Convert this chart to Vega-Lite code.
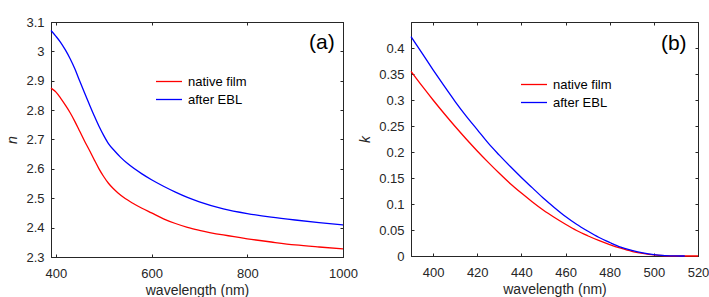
{
  "$schema": "https://vega.github.io/schema/vega-lite/v6.json",
  "padding": {"left": 5, "top": 15, "right": 0, "bottom": 0},
  "bounds": "flush",
  "spacing": 68,
  "datasets": {
    "nData": [
      {"wavelength": 390, "n": 2.875, "series": "native film"},
      {"wavelength": 400, "n": 2.862, "series": "native film"},
      {"wavelength": 410, "n": 2.841, "series": "native film"},
      {"wavelength": 420, "n": 2.817, "series": "native film"},
      {"wavelength": 430, "n": 2.791, "series": "native film"},
      {"wavelength": 440, "n": 2.761, "series": "native film"},
      {"wavelength": 450, "n": 2.728, "series": "native film"},
      {"wavelength": 460, "n": 2.695, "series": "native film"},
      {"wavelength": 470, "n": 2.664, "series": "native film"},
      {"wavelength": 480, "n": 2.632, "series": "native film"},
      {"wavelength": 490, "n": 2.601, "series": "native film"},
      {"wavelength": 500, "n": 2.574, "series": "native film"},
      {"wavelength": 510, "n": 2.551, "series": "native film"},
      {"wavelength": 520, "n": 2.533, "series": "native film"},
      {"wavelength": 530, "n": 2.518, "series": "native film"},
      {"wavelength": 545, "n": 2.499, "series": "native film"},
      {"wavelength": 560, "n": 2.484, "series": "native film"},
      {"wavelength": 580, "n": 2.466, "series": "native film"},
      {"wavelength": 600, "n": 2.450, "series": "native film"},
      {"wavelength": 625, "n": 2.430, "series": "native film"},
      {"wavelength": 650, "n": 2.414, "series": "native film"},
      {"wavelength": 675, "n": 2.401, "series": "native film"},
      {"wavelength": 700, "n": 2.391, "series": "native film"},
      {"wavelength": 750, "n": 2.375, "series": "native film"},
      {"wavelength": 800, "n": 2.362, "series": "native film"},
      {"wavelength": 850, "n": 2.351, "series": "native film"},
      {"wavelength": 900, "n": 2.341, "series": "native film"},
      {"wavelength": 950, "n": 2.334, "series": "native film"},
      {"wavelength": 1000, "n": 2.328, "series": "native film"},
      {"wavelength": 390, "n": 3.071, "series": "after EBL"},
      {"wavelength": 400, "n": 3.052, "series": "after EBL"},
      {"wavelength": 410, "n": 3.031, "series": "after EBL"},
      {"wavelength": 420, "n": 3.005, "series": "after EBL"},
      {"wavelength": 430, "n": 2.975, "series": "after EBL"},
      {"wavelength": 440, "n": 2.940, "series": "after EBL"},
      {"wavelength": 450, "n": 2.899, "series": "after EBL"},
      {"wavelength": 460, "n": 2.859, "series": "after EBL"},
      {"wavelength": 470, "n": 2.820, "series": "after EBL"},
      {"wavelength": 480, "n": 2.782, "series": "after EBL"},
      {"wavelength": 490, "n": 2.746, "series": "after EBL"},
      {"wavelength": 500, "n": 2.714, "series": "after EBL"},
      {"wavelength": 510, "n": 2.686, "series": "after EBL"},
      {"wavelength": 524, "n": 2.659, "series": "after EBL"},
      {"wavelength": 535, "n": 2.640, "series": "after EBL"},
      {"wavelength": 550, "n": 2.618, "series": "after EBL"},
      {"wavelength": 580, "n": 2.583, "series": "after EBL"},
      {"wavelength": 600, "n": 2.563, "series": "after EBL"},
      {"wavelength": 625, "n": 2.541, "series": "after EBL"},
      {"wavelength": 650, "n": 2.521, "series": "after EBL"},
      {"wavelength": 675, "n": 2.503, "series": "after EBL"},
      {"wavelength": 700, "n": 2.488, "series": "after EBL"},
      {"wavelength": 750, "n": 2.464, "series": "after EBL"},
      {"wavelength": 800, "n": 2.448, "series": "after EBL"},
      {"wavelength": 850, "n": 2.436, "series": "after EBL"},
      {"wavelength": 900, "n": 2.426, "series": "after EBL"},
      {"wavelength": 950, "n": 2.417, "series": "after EBL"},
      {"wavelength": 1000, "n": 2.409, "series": "after EBL"}
    ],
    "kData": [
      {"wavelength": 390, "k": 0.355, "series": "native film"},
      {"wavelength": 395, "k": 0.327, "series": "native film"},
      {"wavelength": 400, "k": 0.300, "series": "native film"},
      {"wavelength": 405, "k": 0.274, "series": "native film"},
      {"wavelength": 410, "k": 0.249, "series": "native film"},
      {"wavelength": 415, "k": 0.225, "series": "native film"},
      {"wavelength": 420, "k": 0.202, "series": "native film"},
      {"wavelength": 425, "k": 0.180, "series": "native film"},
      {"wavelength": 430, "k": 0.159, "series": "native film"},
      {"wavelength": 435, "k": 0.139, "series": "native film"},
      {"wavelength": 440, "k": 0.121, "series": "native film"},
      {"wavelength": 445, "k": 0.104, "series": "native film"},
      {"wavelength": 450, "k": 0.088, "series": "native film"},
      {"wavelength": 455, "k": 0.074, "series": "native film"},
      {"wavelength": 460, "k": 0.061, "series": "native film"},
      {"wavelength": 465, "k": 0.049, "series": "native film"},
      {"wavelength": 470, "k": 0.039, "series": "native film"},
      {"wavelength": 475, "k": 0.030, "series": "native film"},
      {"wavelength": 480, "k": 0.022, "series": "native film"},
      {"wavelength": 485, "k": 0.015, "series": "native film"},
      {"wavelength": 490, "k": 0.009, "series": "native film"},
      {"wavelength": 495, "k": 0.005, "series": "native film"},
      {"wavelength": 500, "k": 0.002, "series": "native film"},
      {"wavelength": 505, "k": 0.0005, "series": "native film"},
      {"wavelength": 510, "k": 0, "series": "native film"},
      {"wavelength": 520, "k": 0, "series": "native film"},
      {"wavelength": 390, "k": 0.422, "series": "after EBL"},
      {"wavelength": 395, "k": 0.390, "series": "after EBL"},
      {"wavelength": 400, "k": 0.358, "series": "after EBL"},
      {"wavelength": 405, "k": 0.327, "series": "after EBL"},
      {"wavelength": 410, "k": 0.297, "series": "after EBL"},
      {"wavelength": 415, "k": 0.269, "series": "after EBL"},
      {"wavelength": 420, "k": 0.243, "series": "after EBL"},
      {"wavelength": 425, "k": 0.217, "series": "after EBL"},
      {"wavelength": 430, "k": 0.194, "series": "after EBL"},
      {"wavelength": 435, "k": 0.172, "series": "after EBL"},
      {"wavelength": 440, "k": 0.151, "series": "after EBL"},
      {"wavelength": 445, "k": 0.131, "series": "after EBL"},
      {"wavelength": 450, "k": 0.111, "series": "after EBL"},
      {"wavelength": 455, "k": 0.093, "series": "after EBL"},
      {"wavelength": 460, "k": 0.076, "series": "after EBL"},
      {"wavelength": 465, "k": 0.061, "series": "after EBL"},
      {"wavelength": 470, "k": 0.048, "series": "after EBL"},
      {"wavelength": 475, "k": 0.036, "series": "after EBL"},
      {"wavelength": 480, "k": 0.026, "series": "after EBL"},
      {"wavelength": 485, "k": 0.017, "series": "after EBL"},
      {"wavelength": 490, "k": 0.011, "series": "after EBL"},
      {"wavelength": 495, "k": 0.006, "series": "after EBL"},
      {"wavelength": 500, "k": 0.0025, "series": "after EBL"},
      {"wavelength": 505, "k": 0.0007, "series": "after EBL"},
      {"wavelength": 510, "k": 0.0001, "series": "after EBL"},
      {"wavelength": 514, "k": 0, "series": "after EBL"}
    ]
  },
  "hconcat": [
    {
      "width": 292,
      "height": 235,
      "layer": [
        {
          "data": {"name": "nData"},
          "mark": {"type": "line", "strokeWidth": 1.3, "interpolate": "monotone"},
          "encoding": {
            "x": {"field": "wavelength", "type": "quantitative", "scale": {"domain": [390, 1000], "nice": false, "zero": false}, "axis": {"title": "wavelength (nm)", "values": [400, 600, 800, 1000], "format": "d"}},
            "y": {"field": "n", "type": "quantitative", "scale": {"domain": [2.3, 3.1], "nice": false, "zero": false}, "axis": {"title": "n", "titleFontStyle": "italic", "values": [2.3, 2.4, 2.5, 2.6, 2.7, 2.8, 2.9, 3.0, 3.1], "format": "~g"}},
            "color": {"field": "series", "type": "nominal", "scale": {"domain": ["native film", "after EBL"], "range": ["#ff0000", "#0000ff"]}, "legend": {"title": null, "orient": "none", "legendX": 104, "legendY": 52}}
          }
        },
        {
          "data": {"values": [{}]},
          "mark": {"type": "text", "text": "(a)", "fontSize": 21, "align": "center", "baseline": "middle", "color": "#000000"},
          "encoding": {
            "x": {"datum": 956, "type": "quantitative", "axis": {"orient": "top", "labels": false, "title": null, "values": [400, 600, 800, 1000]}},
            "y": {"datum": 3.028, "type": "quantitative", "axis": {"orient": "right", "labels": false, "title": null, "values": [2.3, 2.4, 2.5, 2.6, 2.7, 2.8, 2.9, 3.0, 3.1]}}
          }
        }
      ],
      "resolve": {"axis": {"x": "independent", "y": "independent"}}
    },
    {
      "width": 287,
      "height": 234,
      "layer": [
        {
          "data": {"name": "kData"},
          "mark": {"type": "line", "strokeWidth": 1.3, "interpolate": "monotone"},
          "encoding": {
            "x": {"field": "wavelength", "type": "quantitative", "scale": {"domain": [390, 520], "nice": false, "zero": false}, "axis": {"title": "wavelength (nm)", "values": [400, 420, 440, 460, 480, 500, 520], "format": "d"}},
            "y": {"field": "k", "type": "quantitative", "scale": {"domain": [0, 0.45], "nice": false}, "axis": {"title": "k", "titleFontStyle": "italic", "values": [0, 0.05, 0.1, 0.15, 0.2, 0.25, 0.3, 0.35, 0.4], "format": "~g"}},
            "color": {"field": "series", "type": "nominal", "scale": {"domain": ["native film", "after EBL"], "range": ["#ff0000", "#0000ff"]}, "legend": {"title": null, "orient": "none", "legendX": 109, "legendY": 55}}
          }
        },
        {
          "data": {"values": [{}]},
          "mark": {"type": "text", "text": "(b)", "fontSize": 21, "align": "center", "baseline": "middle", "color": "#000000"},
          "encoding": {
            "x": {"datum": 509, "type": "quantitative", "axis": {"orient": "top", "labels": false, "title": null, "values": [400, 420, 440, 460, 480, 500, 520]}},
            "y": {"datum": 0.407, "type": "quantitative", "axis": {"orient": "right", "labels": false, "title": null, "values": [0, 0.05, 0.1, 0.15, 0.2, 0.25, 0.3, 0.35, 0.4]}}
          }
        }
      ],
      "resolve": {"axis": {"x": "independent", "y": "independent"}}
    }
  ],
  "resolve": {"scale": {"color": "independent"}},
  "config": {
    "font": "Liberation Sans",
    "view": {"stroke": "#262626", "strokeWidth": 1},
    "axis": {
      "grid": false,
      "domainColor": "#262626",
      "tickColor": "#262626",
      "tickSize": -3,
      "labelFontSize": 13,
      "labelColor": "#262626",
      "labelPadding": 10,
      "labelFlush": false,
      "labelFont": "Liberation Sans",
      "titleFont": "Liberation Sans",
      "titleFontSize": 14,
      "titleFontWeight": "normal",
      "titleColor": "#262626"
    },
    "axisX": {"titlePadding": 3, "labelPadding": 13},
    "axisY": {"titlePadding": 6},
    "legend": {
      "labelFontSize": 13,
      "labelColor": "#000000",
      "labelFont": "Liberation Sans",
      "symbolType": "M-1,0H3",
      "symbolSize": 169,
      "symbolStrokeWidth": 1.3,
      "labelOffset": 18,
      "rowPadding": 3
    }
  }
}
